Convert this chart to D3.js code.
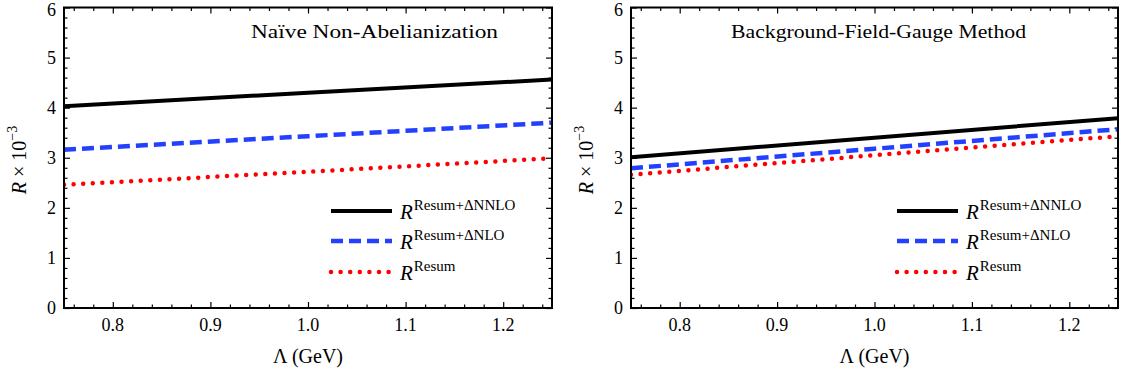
<!DOCTYPE html>
<html>
<head>
<meta charset="utf-8">
<script src="https://cdn.jsdelivr.net/npm/d3@7"></script>
<style>
  body { margin: 0; background: #fff; }
  text { font-family: "Liberation Serif", "DejaVu Serif", serif; fill: #000; }
</style>
</head>
<body>
<script>
var width = 1122,
    height = 381;

// Lambda (GeV) sample points
var lambda = [0.75, 1.0, 1.25];

// left panel: naive non-abelianization
var naiveNNLO = [4.03, 4.30, 4.56];
var naiveNLO = [3.16, 3.43, 3.70];
var naiveResum = [2.46, 2.72, 2.99];

// right panel: background-field-gauge method
var bfgNNLO = [3.01, 3.40, 3.79];
var bfgNLO = [2.79, 3.18, 3.57];
var bfgResum = [2.66, 3.05, 3.43];

var xMajor = [0.8, 0.9, 1.0, 1.1, 1.2];
var xTickLabels = ['0.8', '0.9', '1.0', '1.1', '1.2'];
var yMajor = [0, 1, 2, 3, 4, 5, 6];

var seriesStyle = [
  { name: 'Resum+ΔNNLO', color: '#000000', width: 4, dash: null, cap: 'butt' },
  { name: 'Resum+ΔNLO', color: '#2440ff', width: 4.5, dash: '12,6', cap: 'butt' },
  { name: 'Resum', color: '#ff0000', width: 4.5, dash: '0,9.6', cap: 'round' }
];

var FONT = '"Liberation Serif", "DejaVu Serif", serif';

var svg = d3.select('body')
  .append('svg')
  .attr('width', width)
  .attr('height', height)
  .attr('font-family', FONT);

function drawPanel(left, right, title, titleX, titleLen, legendX, series) {
  var top = 7.5, bottom = 308;
  var x = d3.scaleLinear().domain([0.75, 1.25]).range([left, right]);
  var y = d3.scaleLinear().domain([0, 6]).range([bottom, top]);
  var g = svg.append('g');

  var minorX = d3.range(0.76, 1.25, 0.02).filter(function(v) {
    return Math.abs(v * 10 - Math.round(v * 10)) > 0.01;
  });
  var minorY = d3.range(0.2, 6, 0.2).filter(function(v) {
    return Math.abs(v - Math.round(v)) > 0.01;
  });

  // inward ticks on all four sides
  function tickAxis(axisFn, scale, vals, size, tx, ty) {
    var a = g.append('g')
      .attr('transform', 'translate(' + tx + ',' + ty + ')')
      .call(axisFn(scale).tickValues(vals).tickSizeInner(-size).tickSizeOuter(0).tickFormat(''));
    a.select('.domain').remove();
    a.selectAll('line').attr('stroke', '#000').attr('stroke-width', 1.2);
    return a;
  }
  tickAxis(d3.axisBottom, x, xMajor, 6, 0, bottom);
  tickAxis(d3.axisBottom, x, minorX, 3.5, 0, bottom);
  tickAxis(d3.axisTop, x, xMajor, 6, 0, top);
  tickAxis(d3.axisTop, x, minorX, 3.5, 0, top);
  tickAxis(d3.axisLeft, y, yMajor, 6, left, 0);
  tickAxis(d3.axisLeft, y, minorY, 3.5, left, 0);
  tickAxis(d3.axisRight, y, yMajor, 6, right, 0);
  tickAxis(d3.axisRight, y, minorY, 3.5, right, 0);

  // tick labels
  g.selectAll('.xl').data(xMajor).enter().append('text')
    .attr('x', function(d) { return x(d); })
    .attr('y', 331)
    .attr('text-anchor', 'middle')
    .attr('font-family', FONT)
    .attr('font-size', 18)
    .text(function(d, i) { return xTickLabels[i]; });
  g.selectAll('.yl').data(yMajor).enter().append('text')
    .attr('x', left - 8)
    .attr('y', function(d) { return Math.max(y(d) + 6, 16); })
    .attr('text-anchor', 'end')
    .attr('font-family', FONT)
    .attr('font-size', 18)
    .text(function(d) { return d; });

  // curves
  var line = d3.line()
    .x(function(d) { return x(d[0]); })
    .y(function(d) { return y(d[1]); });
  g.append('clipPath').attr('id', 'clip' + left)
    .append('rect').attr('x', left).attr('y', top).attr('width', right - left).attr('height', bottom - top);
  series.forEach(function(vals, i) {
    var st = seriesStyle[i];
    g.append('path')
      .datum(d3.zip(lambda, vals))
      .attr('clip-path', 'url(#clip' + left + ')')
      .attr('fill', 'none')
      .attr('stroke', st.color)
      .attr('stroke-width', st.width)
      .attr('stroke-linecap', st.cap)
      .attr('stroke-dasharray', st.dash)
      .attr('d', line);
  });

  // frame
  g.append('rect')
    .attr('x', left).attr('y', top)
    .attr('width', right - left).attr('height', bottom - top)
    .attr('fill', 'none').attr('stroke', '#000').attr('stroke-width', 2);

  // title
  g.append('text')
    .attr('x', titleX).attr('y', 38)
    .attr('font-size', 19)
    .attr('textLength', titleLen).attr('lengthAdjust', 'spacingAndGlyphs')
    .text(title);

  // legend
  var legY = [211, 241, 272];
  seriesStyle.forEach(function(st, i) {
    g.append('line')
      .attr('x1', legendX).attr('x2', legendX + 61)
      .attr('y1', legY[i]).attr('y2', legY[i])
      .attr('stroke', st.color)
      .attr('stroke-width', st.width)
      .attr('stroke-linecap', st.cap)
      .attr('stroke-dasharray', st.dash);
    var t = g.append('text')
      .attr('x', legendX + 69).attr('y', legY[i] + 8)
      .attr('font-size', 21);
    t.append('tspan').attr('font-style', 'italic').text('R');
    t.append('tspan').attr('dx', 1).attr('dy', -9).attr('font-size', 15).text(st.name);
  });

  // axis labels
  g.append('text')
    .attr('x', (left + right) / 2).attr('y', 363)
    .attr('text-anchor', 'middle')
    .attr('font-size', 20)
    .text('Λ (GeV)');
  var yl = g.append('text')
    .attr('transform', 'translate(' + (left - 38) + ',160) rotate(-90)')
    .attr('text-anchor', 'middle')
    .attr('font-size', 20);
  yl.append('tspan').attr('font-style', 'italic').text('R');
  yl.append('tspan').text(' × 10');
  yl.append('tspan').attr('dy', -9).attr('font-size', 14).text('−3');
}

drawPanel(64, 552, 'Naïve Non-Abelianization', 251, 247, 331, [naiveNNLO, naiveNLO, naiveResum]);
drawPanel(631, 1118, 'Background-Field-Gauge Method', 731, 295, 897, [bfgNNLO, bfgNLO, bfgResum]);
</script>
</body>
</html>
